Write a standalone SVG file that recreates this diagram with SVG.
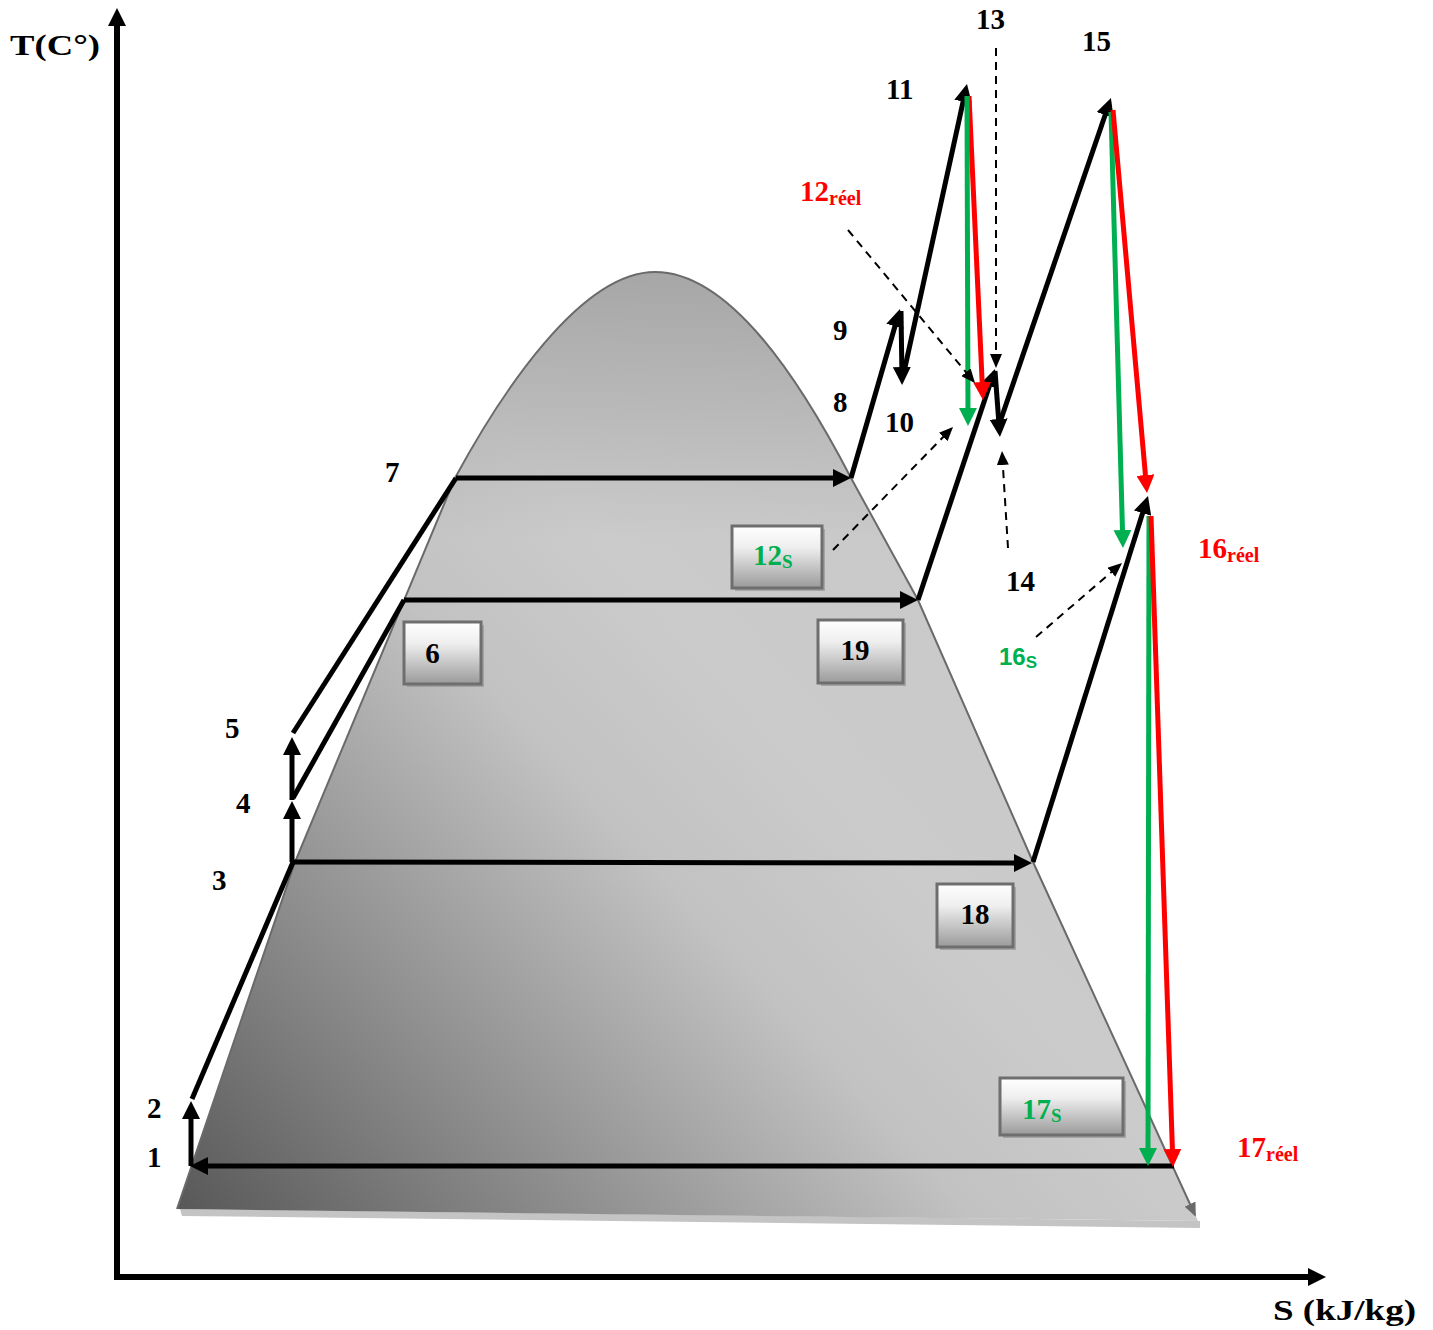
<svg xmlns="http://www.w3.org/2000/svg" width="1433" height="1330" viewBox="0 0 1433 1330">
<defs>
<linearGradient id="domeG" gradientUnits="userSpaceOnUse" x1="178" y1="1210" x2="1200" y2="272">
<stop offset="0" stop-color="#585858"/>
<stop offset="0.14" stop-color="#7c7c7c"/>
<stop offset="0.42" stop-color="#c2c2c2"/>
<stop offset="0.55" stop-color="#cbcbcb"/>
<stop offset="1" stop-color="#c6c6c6"/>
</linearGradient>
<linearGradient id="topG" gradientUnits="userSpaceOnUse" x1="0" y1="272" x2="0" y2="540">
<stop offset="0" stop-color="#8a8a8a" stop-opacity="0.55"/>
<stop offset="1" stop-color="#8a8a8a" stop-opacity="0"/>
</linearGradient>
<linearGradient id="boxG" x1="0" y1="0" x2="0" y2="1">
<stop offset="0" stop-color="#ffffff"/>
<stop offset="0.35" stop-color="#eeeeee"/>
<stop offset="1" stop-color="#9a9a9a"/>
</linearGradient>
<marker id="ah" viewBox="0 0 18 18" markerWidth="18" markerHeight="18" refX="12" refY="9" orient="auto" markerUnits="userSpaceOnUse"><path d="M0,0 L18,9 L0,18 Z" fill="#000"/></marker>
<marker id="ag" viewBox="0 0 18 18" markerWidth="18" markerHeight="18" refX="12" refY="9" orient="auto" markerUnits="userSpaceOnUse"><path d="M0,0 L18,9 L0,18 Z" fill="#00B050"/></marker>
<marker id="ar" viewBox="0 0 18 18" markerWidth="18" markerHeight="18" refX="12" refY="9" orient="auto" markerUnits="userSpaceOnUse"><path d="M0,0 L18,9 L0,18 Z" fill="#FF0000"/></marker>
<marker id="ad" viewBox="0 0 14 12" markerWidth="14" markerHeight="12" refX="12" refY="6" orient="auto" markerUnits="userSpaceOnUse"><path d="M0,0 L14,6 L0,12 Z" fill="#000"/></marker>
<marker id="agr" viewBox="0 0 14 12" markerWidth="14" markerHeight="12" refX="12" refY="6" orient="auto" markerUnits="userSpaceOnUse"><path d="M0,0 L14,6 L0,12 Z" fill="#6a6a6a"/></marker>
</defs>
<style>
.t{font-family:"Liberation Serif","Times New Roman",serif;font-weight:bold;font-size:29px;fill:#000}
.red{fill:#FF0000}
.grn{fill:#00B050}
.sans{font-family:"Liberation Sans",Arial,sans-serif;font-size:24px}
.k{stroke:#000;stroke-width:5;fill:none}
.kh{stroke:#000;stroke-width:5;fill:none;marker-end:url(#ah)}
.gh{stroke:#00B050;stroke-width:5;fill:none;marker-end:url(#ag)}
.rh{stroke:#FF0000;stroke-width:5;fill:none;marker-end:url(#ar)}
.dh{stroke:#000;stroke-width:2;stroke-dasharray:8 6;fill:none;marker-end:url(#ad)}
.ax{stroke:#000;stroke-width:6;fill:none;marker-end:url(#ah)}
.box{fill:url(#boxG);stroke:#6e6e6e;stroke-width:3}
.shd{fill:#8c8c8c;opacity:0.6}
</style>

<g id="dome">
<path d="M180,1209 L1200,1221 L1200,1228 L182,1216 Z" fill="#c4c4c4"/>
<path d="M177,1209 L295,862 L455,478 C500,395 580,272 655,272 C730,272 800,380 851,478 L918,600 L1033,862 L1198,1221 Z" fill="url(#domeG)"/>
<path d="M177,1209 L295,862 L455,478 C500,395 580,272 655,272 C730,272 800,380 851,478 L918,600 L1033,862 L1198,1221 Z" fill="url(#topG)"/>
<path d="M177,1209 L295,862 L455,478 C500,395 580,272 655,272 C730,272 800,380 851,478 L918,600 L1033,862 L1195,1215" fill="none" stroke="#6a6a6a" stroke-width="2" marker-end="url(#agr)"/>
</g>

<g id="axes">
<line class="ax" x1="117" y1="1280" x2="117" y2="14"/>
<line class="ax" x1="114" y1="1277" x2="1320" y2="1277"/>
<text class="t" x="10" y="55" font-size="35" textLength="90" lengthAdjust="spacingAndGlyphs">T(C°)</text>
<text class="t" x="1273" y="1320" font-size="32" textLength="143" lengthAdjust="spacingAndGlyphs">S (kJ/kg)</text>
</g>

<g id="connectors">
<line class="kh" x1="1174" y1="1166" x2="196" y2="1166"/>
<line class="kh" x1="191" y1="1166" x2="191" y2="1107"/>
<line class="k" x1="192" y1="1099" x2="293" y2="862"/>
<line class="kh" x1="292" y1="862" x2="292" y2="807"/>
<line class="kh" x1="292" y1="800" x2="292" y2="743"/>
<line class="k" x1="293" y1="798" x2="404" y2="600"/>
<line class="k" x1="293" y1="733" x2="456" y2="478"/>
<line class="kh" x1="456" y1="478" x2="845" y2="478"/>
<line class="kh" x1="851" y1="478" x2="898.3" y2="314.8"/>
<line class="kh" x1="901" y1="311" x2="902" y2="379"/>
<line class="kh" x1="904" y1="372" x2="965.7" y2="89.9"/>
<line class="kh" x1="404" y1="600" x2="912" y2="600"/>
<line class="kh" x1="918" y1="600" x2="993.1" y2="374.7"/>
<line class="kh" x1="995" y1="371" x2="999.5" y2="431"/>
<line class="kh" x1="1000" y1="422" x2="1109" y2="103.7"/>
<line class="kh" x1="293" y1="862" x2="1026" y2="863"/>
<line class="kh" x1="1033" y1="862" x2="1146.2" y2="501.7"/>
<line class="rh" x1="969" y1="96" x2="982.7" y2="394"/>
<line class="gh" x1="967" y1="96" x2="968" y2="420"/>
<line class="gh" x1="1111" y1="112" x2="1122.8" y2="542"/>
<line class="rh" x1="1113" y1="110" x2="1146.5" y2="487"/>
<line class="gh" x1="1149" y1="516" x2="1148" y2="1160"/>
<line class="rh" x1="1151" y1="516" x2="1172.8" y2="1161"/>
<line class="dh" x1="848" y1="230" x2="973.7" y2="381.5"/>
<line class="dh" x1="996" y1="48" x2="996" y2="366"/>
<line class="dh" x1="833" y1="550" x2="951.6" y2="428.4"/>
<line class="dh" x1="1008" y1="548" x2="1002.1" y2="453"/>
<line class="dh" x1="1036" y1="637" x2="1120.5" y2="564.3"/>
</g>

<g id="p1"><text class="t" x="147" y="1167">1</text></g>
<g id="p2"><text class="t" x="147" y="1118">2</text></g>
<g id="p3"><text class="t" x="212" y="890">3</text></g>
<g id="p4"><text class="t" x="236" y="813">4</text></g>
<g id="p5"><text class="t" x="225" y="738">5</text></g>
<g id="p6">
<rect class="shd" x="407" y="625" width="77" height="62"/>
<rect class="box" x="404" y="622" width="77" height="62"/>
<text class="t" x="432.5" y="663" text-anchor="middle">6</text>
</g>
<g id="p7"><text class="t" x="385" y="482">7</text></g>
<g id="p8"><text class="t" x="833" y="412">8</text></g>
<g id="p9"><text class="t" x="833" y="340">9</text></g>
<g id="p10"><text class="t" x="885" y="432">10</text></g>
<g id="p11"><text class="t" x="886" y="99">11</text></g>
<g id="p12reel"><text class="t red" x="800" y="201">12<tspan font-size="20" dy="4">réel</tspan></text></g>
<g id="p12s">
<rect class="shd" x="735" y="529" width="90" height="62"/>
<rect class="box" x="732" y="526" width="90" height="62"/>
<text class="t grn" x="753" y="565">12<tspan font-size="19" dy="3">S</tspan></text>
</g>
<g id="p13"><text class="t" x="976" y="29">13</text></g>
<g id="p14"><text class="t" x="1006" y="591">14</text></g>
<g id="p15"><text class="t" x="1082" y="51">15</text></g>
<g id="p16reel"><text class="t red" x="1198" y="558">16<tspan font-size="20" dy="4">réel</tspan></text></g>
<g id="p16s"><text class="t grn sans" x="999" y="665">16<tspan font-size="17" dy="3">S</tspan></text></g>
<g id="p17reel"><text class="t red" x="1237" y="1157">17<tspan font-size="20" dy="4">réel</tspan></text></g>
<g id="p17s">
<rect class="shd" x="1003" y="1081" width="123" height="57"/>
<rect class="box" x="1000" y="1078" width="123" height="57"/>
<text class="t grn" x="1022" y="1119">17<tspan font-size="19" dy="3">S</tspan></text>
</g>
<g id="p18">
<rect class="shd" x="940" y="887" width="76" height="63"/>
<rect class="box" x="937" y="884" width="76" height="63"/>
<text class="t" x="975" y="924" text-anchor="middle">18</text>
</g>
<g id="p19">
<rect class="shd" x="821" y="623" width="85" height="63"/>
<rect class="box" x="818" y="620" width="85" height="63"/>
<text class="t" x="855" y="660" text-anchor="middle">19</text>
</g>
</svg>
